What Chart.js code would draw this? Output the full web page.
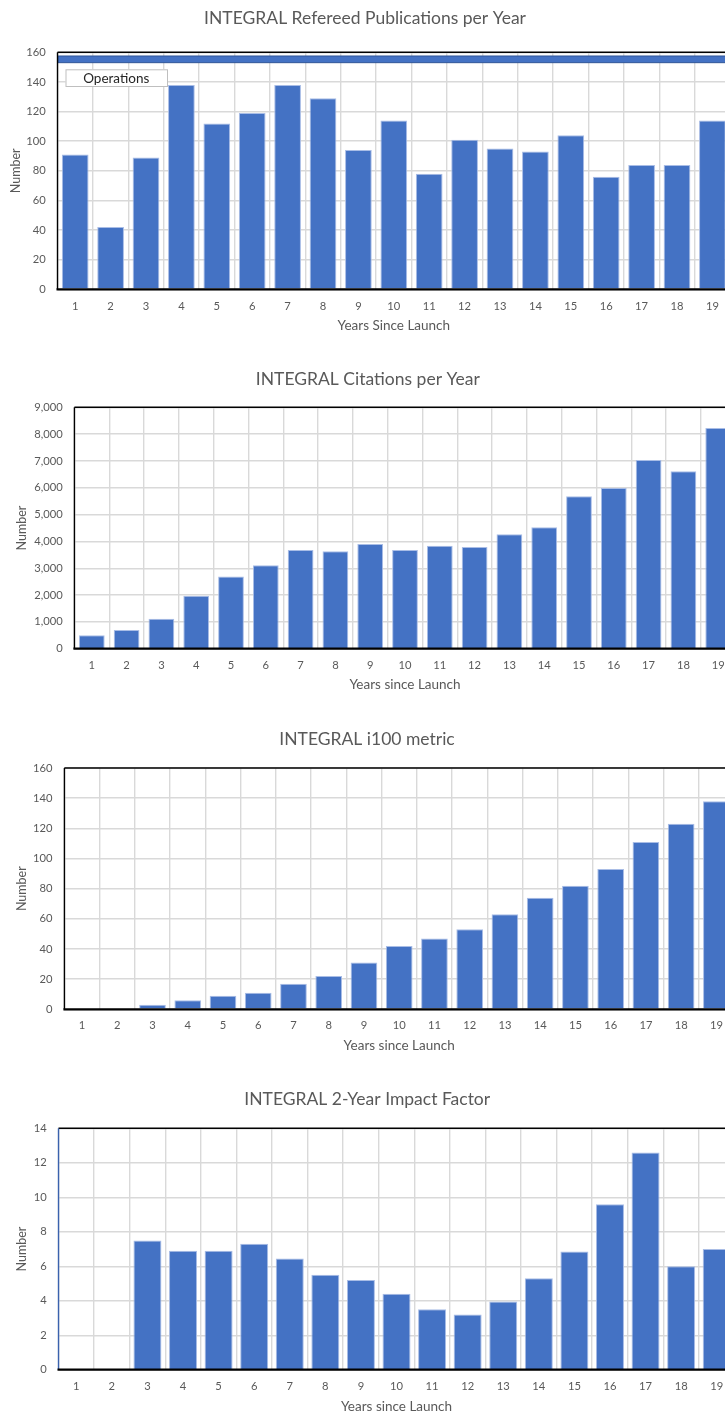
<!DOCTYPE html>
<html>
<head>
<meta charset="utf-8">
<script src="https://cdn.jsdelivr.net/npm/chart.js@4.4.1/dist/chart.umd.min.js"></script>
<style>
html,body{margin:0;padding:0;background:#fff;overflow:hidden;width:725px;height:1418px;position:relative;}
canvas{position:absolute;left:0;display:block;}
</style>
</head>
<body>
<canvas id="c1"></canvas>
<canvas id="c2"></canvas>
<canvas id="c3"></canvas>
<canvas id="c4"></canvas>
<script>
// ---- data ----
const years = ['1','2','3','4','5','6','7','8','9','10','11','12','13','14','15','16','17','18','19'];
const publications = [91,42,89,138,112,119,138,129,94,114,78,101,95,93,104,76,84,84,114];
const citations = [500,700,1120,1970,2690,3110,3680,3630,3900,3680,3840,3790,4265,4525,5680,5990,7035,6615,8230];
const i100Metric = [0,0,3,6,9,11,17,22,31,42,47,53,63,74,82,93,111,123,138];
const impactFactor = [null,null,7.5,6.9,6.9,7.3,6.45,5.5,5.2,4.4,3.5,3.2,3.95,5.3,6.85,9.6,12.6,6.0,7.0];
const pubTicks = [0,20,40,60,80,100,120,140,160];
const citeTicks = [0,1000,2000,3000,4000,5000,6000,7000,8000,9000];
const i100Ticks = [0,20,40,60,80,100,120,140,160];
const ifTicks = [0,2,4,6,8,10,12,14];
const operationsBand = [153,157.5];
const operationsLabel = 'Operations';
const chartTitles = ['INTEGRAL Refereed Publications per Year','INTEGRAL Citations per Year','INTEGRAL i100 metric','INTEGRAL 2-Year Impact Factor'];
const xTitles = ['Years Since Launch','Years since Launch','Years since Launch','Years since Launch'];
const yTitle = 'Number';

// ---- styles ----
const FONT = 'Lato, "Open Sans", sans-serif';
const TITLE_SIZE = 17.5;
const XT_SIZE = 13.5;
const YT_SIZE = 12.5;
const TICK_SIZE = 11.2;
const TEXT = '#595959';
const BAR = '#4472C4';
const GRID = '#d9d9d9';

const framePlugin = {
  id: 'frame',
  afterDatasetsDraw(chart, args, opts) {
    const {ctx, chartArea: {left, right, top, bottom}} = chart;
    ctx.save();
    if (opts.band) {
      const y = chart.scales.y;
      const y1 = y.getPixelForValue(opts.band[1]);
      const y2 = y.getPixelForValue(opts.band[0]);
      ctx.fillStyle = BAR;
      ctx.fillRect(left, y1, right - left, y2 - y1);
      ctx.strokeStyle = '#2F5597';
      ctx.lineWidth = 1;
      ctx.strokeRect(left + 0.5, y1, right - left, y2 - y1);
    }
    if (opts.label) {
      const bx = left + 8, by = top + 17, bw = 101.5, bh = 16.7;
      ctx.fillStyle = '#fff';
      ctx.fillRect(bx, by, bw, bh);
      ctx.strokeStyle = '#bfbfbf';
      ctx.lineWidth = 1;
      ctx.strokeRect(bx + 0.5, by + 0.5, bw, bh);
      ctx.fillStyle = '#262626';
      ctx.font = '13.5px ' + FONT;
      ctx.textAlign = 'center';
      ctx.textBaseline = 'middle';
      ctx.fillText(opts.label, bx + bw / 2, by + bh / 2 + 0.5);
    }
    ctx.lineWidth = 1.4;
    ctx.strokeStyle = '#000';
    ctx.beginPath();
    ctx.moveTo(left, top); ctx.lineTo(right, top);
    ctx.stroke();
    ctx.strokeStyle = opts.leftColor || '#000';
    ctx.beginPath();
    ctx.moveTo(left, top); ctx.lineTo(left, bottom);
    ctx.stroke();
    ctx.strokeStyle = '#000';
    ctx.lineWidth = 2.2;
    ctx.beginPath();
    ctx.moveTo(left - 1, bottom); ctx.lineTo(right, bottom);
    ctx.stroke();
    ctx.restore();
  }
};

function makeChart(id, cfg) {
  const canvas = document.getElementById(id);
  canvas.width = cfg.W; canvas.height = cfg.H;
  canvas.style.width = cfg.W + 'px'; canvas.style.height = cfg.H + 'px';
  canvas.style.top = cfg.top + 'px';
  const tLH = TITLE_SIZE * 1.2;
  const tPadTop = cfg.titleY - tLH / 2;
  const tPadBot = cfg.areaTop - tPadTop - tLH;
  const tickLH = TICK_SIZE * 1.2;
  return new Chart(canvas, {
    type: 'bar',
    data: {
      labels: years,
      datasets: [{
        data: cfg.data,
        backgroundColor: BAR,
        borderColor: '#a9bde6',
        borderWidth: 1,
        barPercentage: cfg.barPct,
        categoryPercentage: 1
      }]
    },
    options: {
      responsive: false,
      animation: false,
      devicePixelRatio: 1,
      layout: {padding: {left: 0, top: 0, right: cfg.W - cfg.areaRight, bottom: 0}},
      plugins: {
        legend: {display: false},
        tooltip: {enabled: false},
        title: {
          display: true, text: cfg.title, color: TEXT,
          font: {family: FONT, size: TITLE_SIZE, lineHeight: 1.2, weight: 'normal'},
          padding: {top: tPadTop, bottom: tPadBot}
        },
        frame: {leftColor: cfg.leftColor, band: cfg.band, label: cfg.label}
      },
      scales: {
        x: {
          grid: {color: GRID, lineWidth: 1.4, drawTicks: false, offset: true},
          border: {display: false},
          ticks: {color: TEXT, font: {family: FONT, size: TICK_SIZE, lineHeight: 1.2}, padding: cfg.xTickOff - tickLH / 2, maxRotation: 0, autoSkip: false},
          title: {
            display: true, text: cfg.xTitle, color: TEXT,
            font: {family: FONT, size: XT_SIZE, lineHeight: 1.2},
            padding: {top: 0, bottom: cfg.H - cfg.xTitleY - XT_SIZE * 1.2 / 2}
          },
          afterFit(s) { s.height = cfg.H - cfg.areaBottom; }
        },
        y: {
          min: cfg.ticks[0], max: cfg.ticks[cfg.ticks.length - 1],
          afterBuildTicks(s) { s.ticks = cfg.ticks.map(v => ({value: v})); },
          grid: {color: GRID, lineWidth: 1.4, drawTicks: false},
          border: {display: false},
          ticks: {color: TEXT, font: {family: FONT, size: TICK_SIZE}, padding: cfg.yTickPad,
                  callback: v => cfg.fmt ? cfg.fmt(v) : String(v)},
          title: {
            display: true, text: yTitle, color: TEXT,
            font: {family: FONT, size: YT_SIZE, lineHeight: 1.2},
            padding: {top: cfg.yTitleX - YT_SIZE * 1.2 / 2, bottom: 0}
          },
          afterFit(s) { s.width = cfg.areaLeft; }
        }
      }
    },
    plugins: [framePlugin]
  });
}

makeChart('c1', {
  top: 0, W: 750, H: 345, areaTop: 52.3, areaBottom: 289.3, areaLeft: 57.5, areaRight: 730.1,
  titleY: 18.5, xTitleY: 326, yTitleX: 15.5, xTickOff: 17, yTickPad: 11.8, barPct: 0.755,
  data: publications, ticks: pubTicks, title: chartTitles[0], xTitle: xTitles[0],
  band: operationsBand, label: operationsLabel
});
makeChart('c2', {
  top: 355, W: 743, H: 345, areaTop: 52.3, areaBottom: 293.7, areaLeft: 74.4, areaRight: 735.6,
  titleY: 24.5, xTitleY: 330, yTitleX: 22, xTickOff: 16.3, yTickPad: 11.7, barPct: 0.74,
  data: citations, ticks: citeTicks, title: chartTitles[1], xTitle: xTitles[1],
  fmt: v => v.toLocaleString('en-US')
});
makeChart('c3', {
  top: 715, W: 745, H: 345, areaTop: 53, areaBottom: 294.3, areaLeft: 64.4, areaRight: 734,
  titleY: 24.5, xTitleY: 331, yTitleX: 22, xTickOff: 16, yTickPad: 12, barPct: 0.757,
  data: i100Metric, ticks: i100Ticks, title: chartTitles[2], xTitle: xTitles[2]
});
makeChart('c4', {
  top: 1073, W: 744, H: 345, areaTop: 55.3, areaBottom: 296.7, areaLeft: 58.5, areaRight: 734.5,
  titleY: 26.5, xTitleY: 334, yTitleX: 22.3, xTickOff: 17, yTickPad: 11.8, barPct: 0.787,
  data: impactFactor, ticks: ifTicks, title: chartTitles[3], xTitle: xTitles[3],
  leftColor: '#3a62ad'
});
</script>
</body>
</html>
